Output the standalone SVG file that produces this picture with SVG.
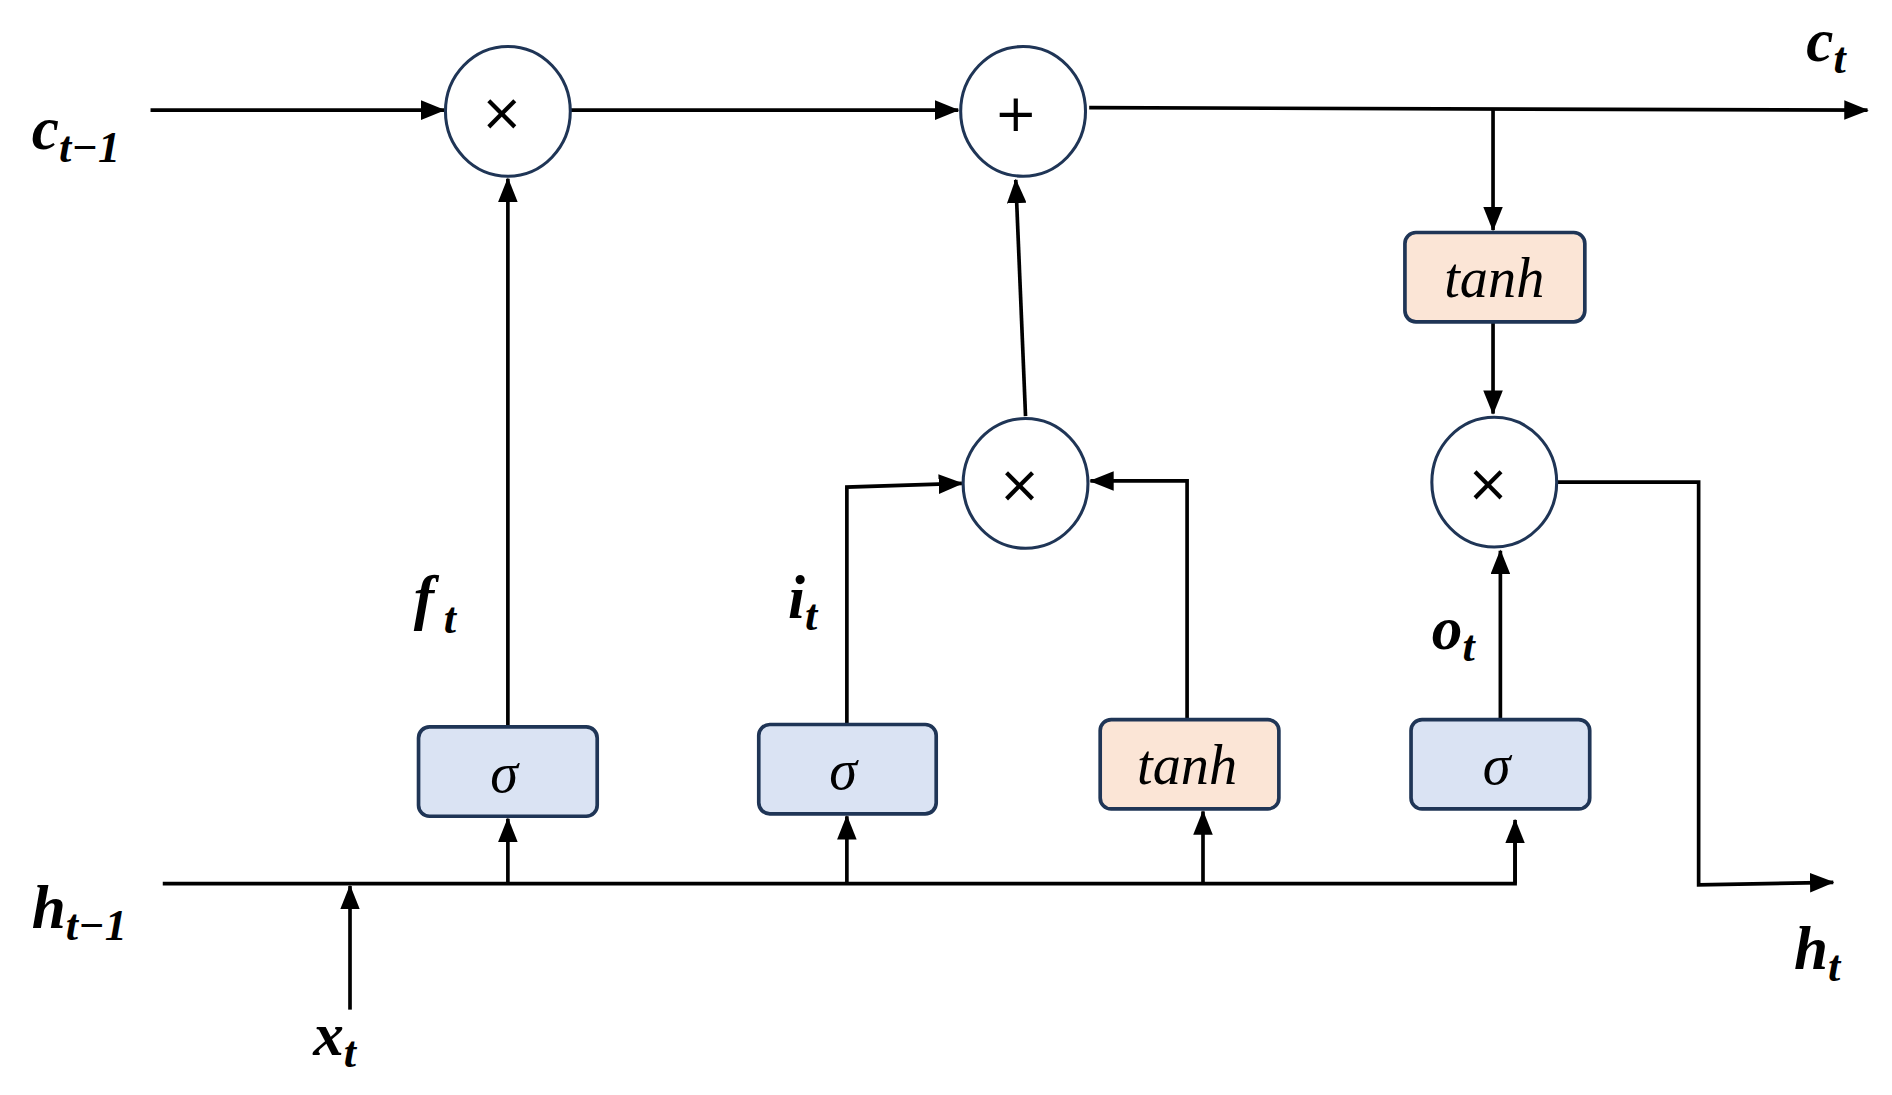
<svg xmlns="http://www.w3.org/2000/svg" width="1892" height="1095" viewBox="0 0 1892 1095">
<style>
.ln{stroke:#000;stroke-width:3;fill:none}
.op{fill:#fff;stroke:#1f3556;stroke-width:2.5}
.sg{fill:#dae3f3;stroke:#1f3556;stroke-width:3}
.th{fill:#fbe5d6;stroke:#1f3556;stroke-width:3}
.sym{font-family:'DejaVu Sans',sans-serif;font-size:42px;text-anchor:middle}
.fn{font-family:'Liberation Serif',serif;font-style:italic;font-size:46px;text-anchor:middle}
.lb{font-family:'Liberation Serif',serif;font-style:italic;font-weight:bold;font-size:50px}
.sb{font-size:36px}
</style>
<defs><marker id="a" markerWidth="10" markerHeight="8" refX="9" refY="4" orient="auto" markerUnits="userSpaceOnUse" viewBox="0 0 10 8"><path d="M0,0L10,4L0,8z" fill="#000"/></marker>
<marker id="b" markerWidth="20" markerHeight="16" refX="19" refY="8" orient="auto" markerUnits="userSpaceOnUse" viewBox="0 0 20 16"><path d="M0,0L20,8L0,16z" fill="#000"/></marker></defs>
<rect width="1892" height="1095" fill="#fff"/>
<g transform="scale(1.2238)">
<g id="connectors">
<path class="ln" d="M123,90H363" marker-end="url(#b)"/>
<path class="ln" d="M466,90H783" marker-end="url(#b)"/>
<path class="ln" d="M890,88L1526,90" marker-end="url(#b)"/>
<path class="ln" d="M1220,89V188" marker-end="url(#b)"/>
<path class="ln" d="M1220,263V338" marker-end="url(#b)"/>
<path class="ln" d="M1272,394H1388V723L1498,721" marker-end="url(#b)"/>
<path class="ln" d="M838,340L830,147" marker-end="url(#b)"/>
<path class="ln" d="M692,592V398L786,395" marker-end="url(#b)"/>
<path class="ln" d="M970,588V393H891" marker-end="url(#b)"/>
<path class="ln" d="M415,594V146" marker-end="url(#b)"/>
<path class="ln" d="M1226,588V450" marker-end="url(#b)"/>
<path class="ln" d="M133,722H1238V672"/>
<path class="ln" d="M1238,722V670" marker-end="url(#b)"/>
<path class="ln" d="M415,722V669" marker-end="url(#b)"/>
<path class="ln" d="M692,722V667" marker-end="url(#b)"/>
<path class="ln" d="M983,722V663" marker-end="url(#b)"/>
<path class="ln" d="M286,825V724" marker-end="url(#b)"/>
</g>
<g id="mul1"><ellipse class="op" cx="415" cy="91" rx="51" ry="53"/><text class="sym" x="410" y="106">×</text></g>
<g id="add"><ellipse class="op" cx="836" cy="91" rx="51" ry="53"/><text class="sym" x="830" y="107">+</text></g>
<g id="mul2"><ellipse class="op" cx="838" cy="395" rx="51" ry="53"/><text class="sym" x="833" y="410">×</text></g>
<g id="mul3"><ellipse class="op" cx="1221" cy="394" rx="51" ry="53"/><text class="sym" x="1216" y="409">×</text></g>
<g id="tanhC"><rect class="th" x="1148" y="190" width="147" height="73" rx="9"/><text class="fn" x="1221" y="243">tanh</text></g>
<g id="sig1"><rect class="sg" x="342" y="594" width="146" height="73" rx="9"/><text class="fn" x="412" y="647">σ</text></g>
<g id="sig2"><rect class="sg" x="620" y="592" width="145" height="73" rx="9"/><text class="fn" x="689" y="645">σ</text></g>
<g id="tanhG"><rect class="th" x="899" y="588" width="146" height="73" rx="9"/><text class="fn" x="970" y="641">tanh</text></g>
<g id="sig4"><rect class="sg" x="1153" y="588" width="146" height="73" rx="9"/><text class="fn" x="1223" y="641">σ</text></g>
<g id="labels">
<text class="lb" x="26" y="122">c<tspan class="sb" dy="10">t−1</tspan></text>
<text class="lb" x="1476" y="50">c<tspan class="sb" dy="10">t</tspan></text>
<text class="lb" x="26" y="758">h<tspan class="sb" dy="10">t−1</tspan></text>
<text class="lb" x="1466" y="792">h<tspan class="sb" dy="10">t</tspan></text>
<text class="lb" x="256" y="862">x<tspan class="sb" dy="10">t</tspan></text>
<text class="lb" x="338" y="505">f<tspan class="sb" dy="12" dx="8">t</tspan></text>
<text class="lb" x="644" y="505">i<tspan class="sb" dy="10">t</tspan></text>
<text class="lb" x="1170" y="530">o<tspan class="sb" dy="10">t</tspan></text>
</g>
</g>
</svg>
